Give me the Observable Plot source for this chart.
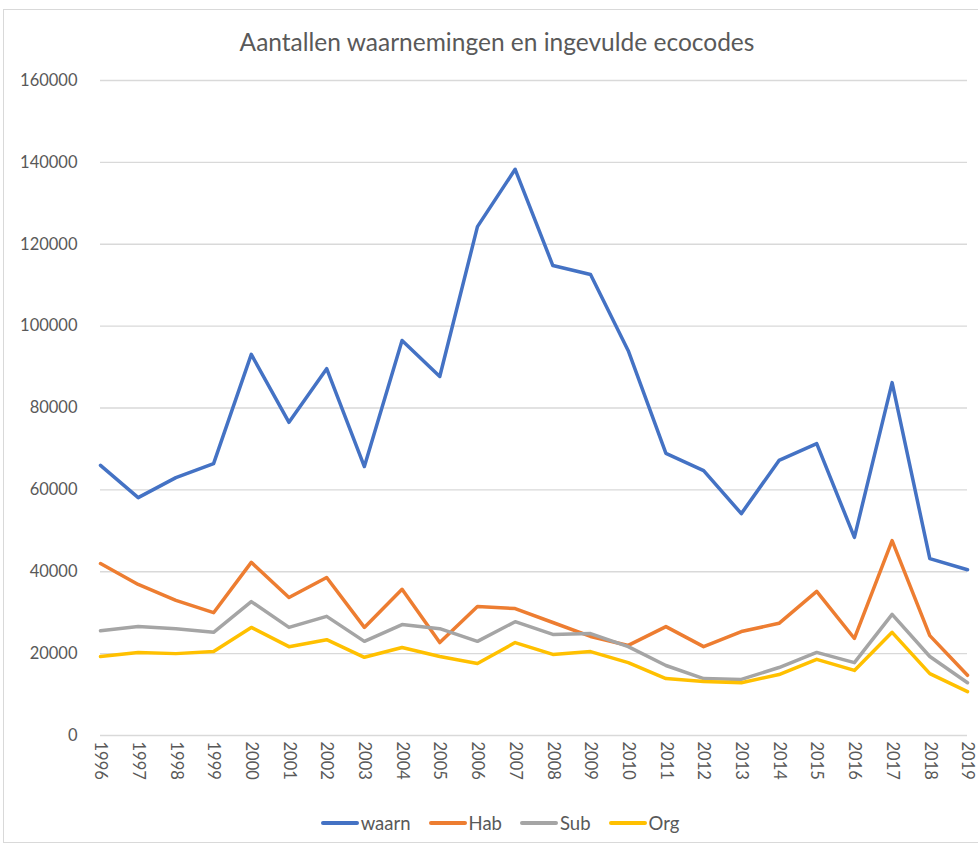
<!DOCTYPE html>
<html><head><meta charset="utf-8">
<script src="https://cdn.jsdelivr.net/npm/d3@7"></script>
<script src="https://cdn.jsdelivr.net/npm/@observablehq/plot@0.6"></script>
<style>
body{margin:0;background:#fff;font-family:Lato,"Liberation Sans",sans-serif;}
#wrap{position:relative;width:978px;height:845px;overflow:hidden;}
#frame{position:absolute;left:3px;top:9px;width:1000px;height:834px;border:1px solid #d9d9d9;box-sizing:border-box;pointer-events:none;}
#title{height:60px;padding-top:29px;padding-left:16px;box-sizing:border-box;text-align:center;font-size:24.5px;line-height:26px;color:#595959;}
#chart{height:740px;}
#legend{height:45px;display:flex;justify-content:center;align-items:center;padding-left:22px;box-sizing:border-box;font-size:18.5px;color:#595959;}
.item{display:flex;align-items:center;margin:0 9px;}
.sw{width:38px;height:4px;border-radius:2px;margin-right:2px;}
</style>
</head><body>
<div id="wrap">
<div id="frame"></div>
<div id="title">Aantallen waarnemingen en ingevulde ecocodes</div>
<div id="chart"></div>
<div id="legend"></div>
</div>
<script>
const years = [1996,1997,1998,1999,2000,2001,2002,2003,2004,2005,2006,2007,2008,2009,2010,2011,2012,2013,2014,2015,2016,2017,2018,2019];
const waarn = [66000,58100,63000,66400,93100,76500,89600,65700,96500,87700,124300,138300,114800,112600,94000,68900,64700,54200,67200,71300,48400,86200,43200,40500];
const hab = [42000,36900,33000,30000,42300,33700,38600,26400,35700,22700,31500,31000,27600,24200,22000,26600,21700,25400,27400,35200,23700,47600,24400,14700];
const sub = [25600,26600,26100,25200,32700,26400,29100,23000,27100,26100,23000,27800,24700,24900,21700,17100,13900,13700,16600,20300,17800,29600,19300,12900];
const org = [19300,20300,20000,20500,26400,21700,23400,19100,21500,19300,17600,22700,19800,20500,17800,13900,13200,12900,14900,18600,15900,25200,15100,10700];
const seriesNames = ["waarn","Hab","Sub","Org"];
const seriesColors = ["#4472C4","#ED7D31","#A5A5A5","#FFC000"];
const yTicks = [0,20000,40000,60000,80000,100000,120000,140000,160000];

const values = [waarn, hab, sub, org];
const data = [];
seriesNames.forEach((s, i) => years.forEach((y, j) => data.push({year: y, value: values[i][j], series: s})));

const plot = Plot.plot({
  width: 978,
  height: 740,
  marginTop: 20,
  marginBottom: 65,
  marginLeft: 100,
  marginRight: 11,
  style: {fontFamily: "Lato, 'Liberation Sans', sans-serif", fontSize: "16.5px", color: "#595959", background: "transparent"},
  x: {domain: [1996, 2019], ticks: years, tickFormat: d => String(d), tickSize: 0, tickPadding: 6, tickRotate: 90, label: null},
  y: {domain: [0, 160000], ticks: yTicks, tickFormat: d => String(d), tickSize: 0, tickPadding: 23, label: null},
  color: {domain: seriesNames, range: seriesColors},
  marks: [
    Plot.gridY(yTicks, {stroke: "#d9d9d9", strokeOpacity: 1, strokeWidth: 1.3}),
    Plot.axisY({ticks: yTicks, tickFormat: d => String(d), tickSize: 0, tickPadding: 23, fill: "#595959"}),
    Plot.axisX({ticks: years, tickFormat: d => String(d), tickSize: 0, tickPadding: 6, tickRotate: 90, fill: "#595959"}),
    Plot.line(data, {x: "year", y: "value", z: "series", stroke: "series", strokeWidth: 3.5, strokeLinejoin: "round", strokeLinecap: "round"})
  ]
});
document.getElementById("chart").appendChild(plot);

const legend = document.getElementById("legend");
seriesNames.forEach((s, i) => {
  const it = document.createElement("div");
  it.className = "item";
  const sw = document.createElement("div");
  sw.className = "sw";
  sw.style.background = seriesColors[i];
  const t = document.createElement("span");
  t.textContent = s;
  it.appendChild(sw); it.appendChild(t);
  legend.appendChild(it);
});
</script>
</body></html>
